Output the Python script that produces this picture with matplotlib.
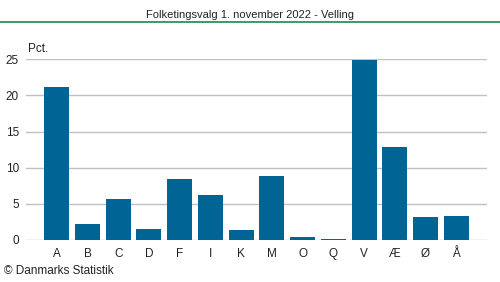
import matplotlib.pyplot as plt
import numpy as np

plt.rcParams['font.family'] = ['Liberation Sans', 'DejaVu Sans']

parties = ['A', 'B', 'C', 'D', 'F', 'I', 'K', 'M', 'O', 'Q', 'V', 'Æ', 'Ø', 'Å']
pct = [21.2, 2.25, 5.7, 1.5, 8.45, 6.25, 1.4, 8.85, 0.4, 0.15, 24.9, 12.9, 3.2, 3.3]
yticks = [0, 5, 10, 15, 20, 25]

W, H = 500, 282
fig = plt.figure(figsize=(W / 100, H / 100), dpi=100)
ax = fig.add_axes([26 / W, 1 - 240 / H, 461 / W, (240 - 59.3) / H])

x = np.arange(len(parties))
ax.bar(x, pct, width=0.81, color='#006595', zorder=3)

ax.set_xlim(-1, len(parties))
ax.set_ylim(0, 25)
ax.set_yticks(yticks)
ax.set_xticks(x)
ax.set_xticklabels(parties)
ax.grid(axis='y', color='#bfbfc8', linewidth=1, zorder=0)
for s in ax.spines.values():
    s.set_visible(False)
ax.tick_params(length=0, labelsize=8.5, colors='#222222')
ax.tick_params(axis='y', pad=5)
ax.tick_params(axis='x', pad=6)

ax.text(0.004, 1.025, 'Pct.', transform=ax.transAxes, fontsize=8.5, ha='left', va='bottom', color='#222222')

fig.text(0.5, 1 - 15 / H, 'Folketingsvalg 1. november 2022 - Velling', ha='center', va='center',
         fontsize=8, color='#222222')
fig.add_artist(plt.Line2D([0, 1], [1 - 22 / H, 1 - 22 / H], color='#1a8a4a', linewidth=1.2))
fig.text(4 / W, 1 - 271 / H, '© Danmarks Statistik', ha='left', va='center', fontsize=8.5, color='#222222')

fig.savefig('out.png', dpi=100)
